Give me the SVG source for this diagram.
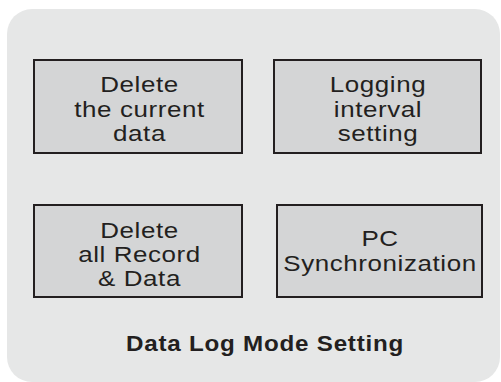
<svg xmlns="http://www.w3.org/2000/svg" width="501" height="382" viewBox="0 0 501 382">
<style>
.panel{fill:#e6e7e7}
.box{fill:#d4d5d6;stroke:#231f20;stroke-width:2}
.lbl{font-family:"Liberation Sans",Arial,sans-serif;font-size:22px;letter-spacing:0.5px;fill:#231f20;text-anchor:middle}
.title{font-family:"Liberation Sans",Arial,sans-serif;font-size:22px;font-weight:bold;letter-spacing:0.7px;fill:#231f20;text-anchor:middle}
</style>
<rect class="panel" x="7" y="9" width="493" height="373" rx="25" ry="25"/>
<g id="node-delete-current">
<rect class="box" x="34" y="60" width="208" height="93"/>
<text class="lbl" transform="translate(139.5 92) scale(1.18 1)">Delete</text>
<text class="lbl" transform="translate(139.5 116.5) scale(1.18 1)">the current</text>
<text class="lbl" transform="translate(139.5 141) scale(1.18 1)">data</text>
</g>
<g id="node-logging-interval">
<rect class="box" x="274" y="60" width="207" height="93"/>
<text class="lbl" transform="translate(378 92) scale(1.18 1)">Logging</text>
<text class="lbl" transform="translate(378 116.5) scale(1.18 1)">interval</text>
<text class="lbl" transform="translate(378 141) scale(1.18 1)">setting</text>
</g>
<g id="node-delete-all">
<rect class="box" x="34" y="205" width="208" height="92"/>
<text class="lbl" transform="translate(139.5 238) scale(1.18 1)">Delete</text>
<text class="lbl" transform="translate(139.5 262) scale(1.18 1)">all Record</text>
<text class="lbl" transform="translate(139.5 286) scale(1.18 1)">&amp; Data</text>
</g>
<g id="node-pc-sync">
<rect class="box" x="277" y="205" width="205" height="92"/>
<text class="lbl" transform="translate(380 246) scale(1.18 1)">PC</text>
<text class="lbl" transform="translate(380 270.5) scale(1.18 1)">Synchronization</text>
</g>
<g id="connectors"></g>
<g id="caption">
<text class="title" transform="translate(265 351) scale(1.1 1)">Data Log Mode Setting</text>
</g>
</svg>
